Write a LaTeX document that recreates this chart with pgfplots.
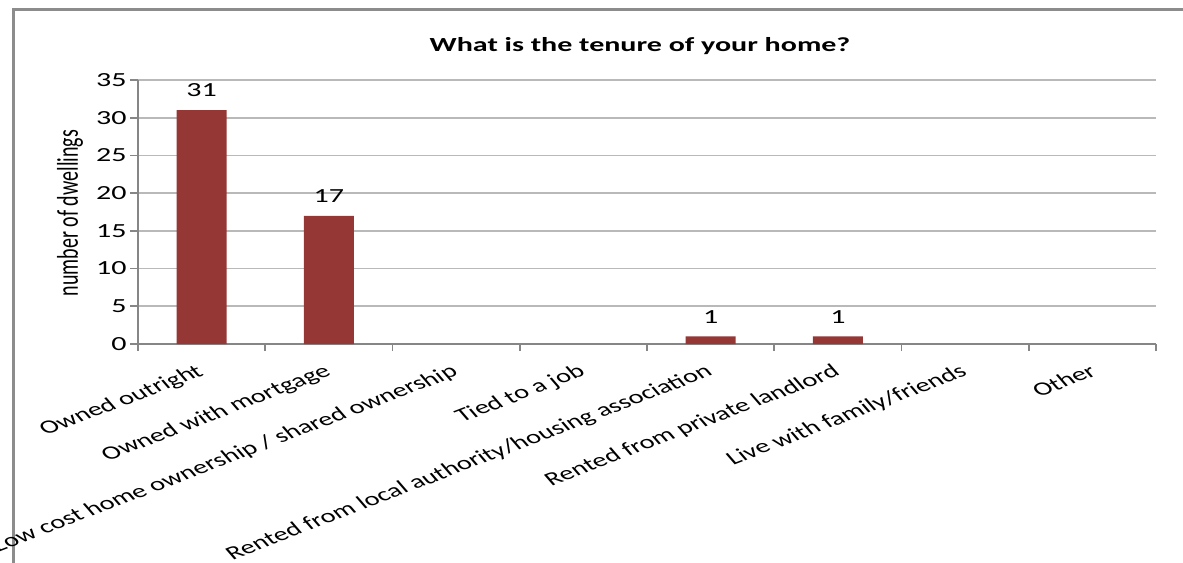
\documentclass[border=0pt]{standalone}
\usepackage{fontspec}
\setmainfont{Carlito}
\newfontfamily\wide[FakeStretch=1.5]{Carlito}
\usepackage{pgfplots}
\pgfplotsset{compat=1.18}
\definecolor{barred}{HTML}{953735}
\definecolor{axgray}{HTML}{868686}
\definecolor{gridgray}{HTML}{B9B9B9}
\definecolor{framegray}{HTML}{8C8C8C}
\newcommand{\xl}[1]{\scalebox{1.5}[1]{\rotatebox{30}{#1}}}
\begin{document}
\begin{tikzpicture}
\useasboundingbox (0,0) rectangle (591.5bp,281.5bp);
\draw[color=framegray, line width=1.5bp] (6.5bp,-2bp) -- (6.5bp,276.5bp) -- (595bp,276.5bp);
\node[font=\wide\bfseries\fontsize{10bp}{12bp}\selectfont] at (320bp,258.5bp) {What is the tenure of your home?};
\node[font=\fontsize{10bp}{12bp}\selectfont] at (35bp,175bp) {\scalebox{1.5}[1]{\rotatebox{90}{number of dwellings}}};
\begin{axis}[
  at={(69bp,109.5bp)}, anchor=south west,
  scale only axis, width=509bp, height=132bp,
  xmin=0.5, xmax=8.5, ymin=0, ymax=35,
  ybar, bar width=25bp,
  axis lines*=left,
  axis line style={axgray, line width=1bp},
  ymajorgrids, grid style={gridgray, line width=0.9bp},
  ytick={0,5,...,35},
  xtick={1,...,8},
  minor xtick={0.5,1.5,...,8.5},
  tick align=outside,
  major tick length=4bp, minor tick length=3.5bp,
  tick style={axgray, line width=0.9bp},
  every major x tick/.append style={draw=none},
  xticklabels={\xl{Owned outright},\xl{Owned with mortgage},\xl{Low cost home ownership / shared ownership},\xl{Tied to a job},\xl{Rented from local authority/housing association},\xl{Rented from private landlord},\xl{Live with family/friends},\xl{Other}},
  xticklabel style={anchor=north east, inner sep=1bp, xshift=4bp, yshift=-4.5bp, font=\fontsize{9.5bp}{11bp}\selectfont},
  /pgf/number format/assume math mode=true,
  yticklabel style={font=\wide\fontsize{10bp}{12bp}\selectfont, inner sep=1.5bp},
  y filter/.expression={y==0 ? nan : y},
  nodes near coords,
  nodes near coords style={font=\wide\fontsize{10bp}{12bp}\selectfont, anchor=south, yshift=3bp},
  clip=false,
]
\addplot[fill=barred, draw=none] coordinates {(1,31) (2,17) (3,0) (4,0) (5,1) (6,1) (7,0) (8,0)};
\end{axis}
\end{tikzpicture}
\end{document}
